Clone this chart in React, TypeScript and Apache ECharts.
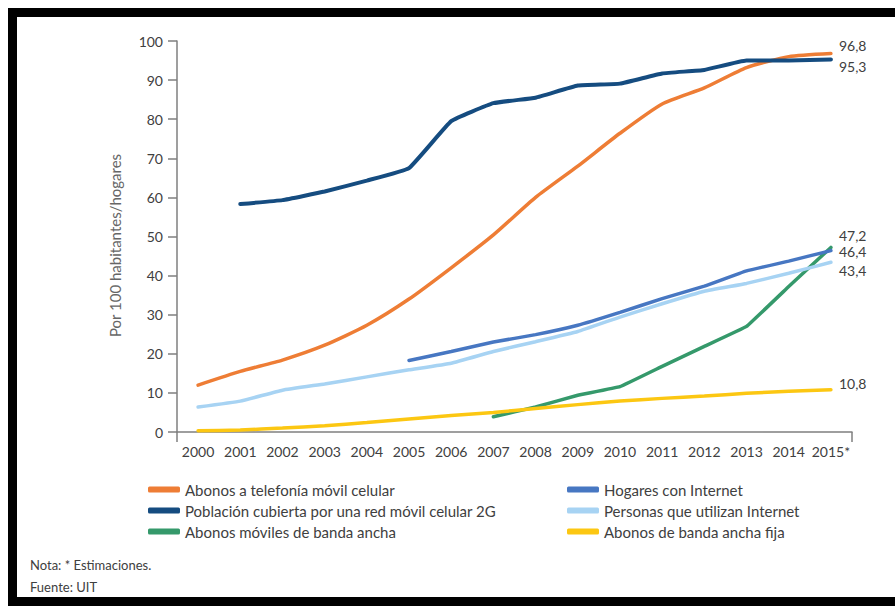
import React, { useEffect, useRef } from "react";
import * as echarts from "echarts";

const years = ["2000","2001","2002","2003","2004","2005","2006","2007","2008","2009","2010","2011","2012","2013","2014","2015*"];

const movilCelular = [12.0,15.5,18.4,22.2,27.3,34.0,42.0,50.4,60.0,68.0,76.4,83.9,88.0,93.2,96.0,96.8];
const poblacion2G = [null,58.3,59.3,61.5,64.3,67.5,79.5,84.1,85.5,88.6,89.1,91.7,92.6,95.0,95.0,95.3];
const hogaresInternet = [null,null,null,null,null,18.3,20.6,23.0,24.9,27.3,30.6,34.1,37.3,41.2,43.7,46.4];
const personasInternet = [6.4,7.9,10.7,12.3,14.1,15.9,17.6,20.6,23.1,25.7,29.4,32.8,36.0,38.0,40.6,43.4];
const movilBandaAncha = [null,null,null,null,null,null,null,3.9,6.4,9.4,11.6,16.8,21.9,27.0,37.2,47.2];
const bandaAnchaFija = [0.3,0.5,1.0,1.6,2.4,3.3,4.2,5.0,6.0,7.0,7.9,8.6,9.2,9.9,10.4,10.8];

const names = [
  "Abonos a telefonía móvil celular",
  "Población cubierta por una red móvil celular 2G",
  "Abonos móviles de banda ancha",
  "Hogares con Internet",
  "Personas que utilizan Internet",
  "Abonos de banda ancha fija",
];

const FONT = "Lato, 'Open Sans', sans-serif";
const TXT = "#404040";

export default function App() {
  const ref = useRef<HTMLDivElement>(null);
  useEffect(() => {
    document.body.style.margin = "0";
    const chart = echarts.init(ref.current!, null, { renderer: "svg" });
    const mk = (name: string, data: any[], color: string, width: number, off: number[], smooth: number) => ({
      name,
      type: "line",
      data,
      smooth,
      showSymbol: false,
      symbol: "none",
      connectNulls: false,
      lineStyle: { color, width, cap: "round" },
      itemStyle: { color },
      endLabel: {
        show: true,
        distance: 8,
        offset: off,
        color: TXT,
        fontSize: 14,
        lineHeight: 14,
        fontFamily: FONT,
        formatter: (p: any) => String(p.value).replace(".", ","),
      },
      z: 3,
    });
    const legendBase = {
      orient: "vertical",
      top: 476,
      itemWidth: 32,
      itemHeight: 6,
      itemGap: 4,
      icon: "roundRect",
      textStyle: { color: TXT, fontSize: 15, fontFamily: FONT, lineHeight: 17 },
    };
    chart.setOption({
      animation: false,
      backgroundColor: "#fff",
      grid: { left: 177, right: 43, top: 41, bottom: 174 },
      xAxis: {
        type: "category",
        data: years,
        boundaryGap: true,
        axisLine: { lineStyle: { color: "#7f7f7f", width: 1.5 } },
        axisTick: { show: true, length: 10, interval: (i: number) => i === 0, lineStyle: { color: "#7f7f7f", width: 1.5 } },
        axisLabel: { color: TXT, fontSize: 14, fontFamily: FONT, margin: 12, interval: 0 },
      },
      yAxis: {
        type: "value",
        min: 0,
        max: 100,
        interval: 10,
        name: "Por 100 habitantes/hogares",
        nameLocation: "middle",
        nameGap: 55,
        nameRotate: 90,
        nameTextStyle: { color: "#666", fontSize: 15, fontFamily: FONT, padding: [0, 18, 0, 0] },
        axisLine: { show: true, lineStyle: { color: "#7f7f7f", width: 1.5 } },
        axisTick: { show: true, length: 9, lineStyle: { color: "#7f7f7f", width: 1.5 } },
        splitLine: { show: false },
        axisLabel: { color: TXT, fontSize: 14, fontFamily: FONT, margin: 14 },
      },
      legend: [
        { ...legendBase, left: 143, data: [names[0], names[1], names[2]] },
        { ...legendBase, left: 562, data: [names[3], names[4], names[5]] },
      ],
      graphic: [
        { type: "rect", shape: { x: 8, y: 8, width: 887, height: 9 }, style: { fill: "#000" } },
        { type: "rect", shape: { x: 8, y: 8, width: 9, height: 598 }, style: { fill: "#000" } },
        { type: "rect", shape: { x: 8, y: 597, width: 887, height: 9 }, style: { fill: "#000" } },
        { type: "text", x: 30, y: 558, style: { text: "Nota: * Estimaciones.", fill: TXT, fontSize: 13, fontFamily: FONT } },
        { type: "text", x: 30, y: 580, style: { text: "Fuente: UIT", fill: TXT, fontSize: 13, fontFamily: FONT } },
      ],
      series: [
        mk(names[0], movilCelular, "#ee7d35", 3.5, [0, -8], 0.2),
        mk(names[1], poblacion2G, "#154c80", 4, [0, 7], 0.1),
        mk(names[2], movilBandaAncha, "#35996b", 3.5, [0, -12], 0.05),
        mk(names[3], hogaresInternet, "#4777c2", 3.5, [0, 1], 0.1),
        mk(names[4], personasInternet, "#a7d3f3", 3.5, [0, 8], 0.1),
        mk(names[5], bandaAnchaFija, "#fcc712", 3.5, [0, -6], 0.1),
      ],
    });
    return () => chart.dispose();
  }, []);
  return <div ref={ref} style={{ width: 895, height: 606 }} />;
}
